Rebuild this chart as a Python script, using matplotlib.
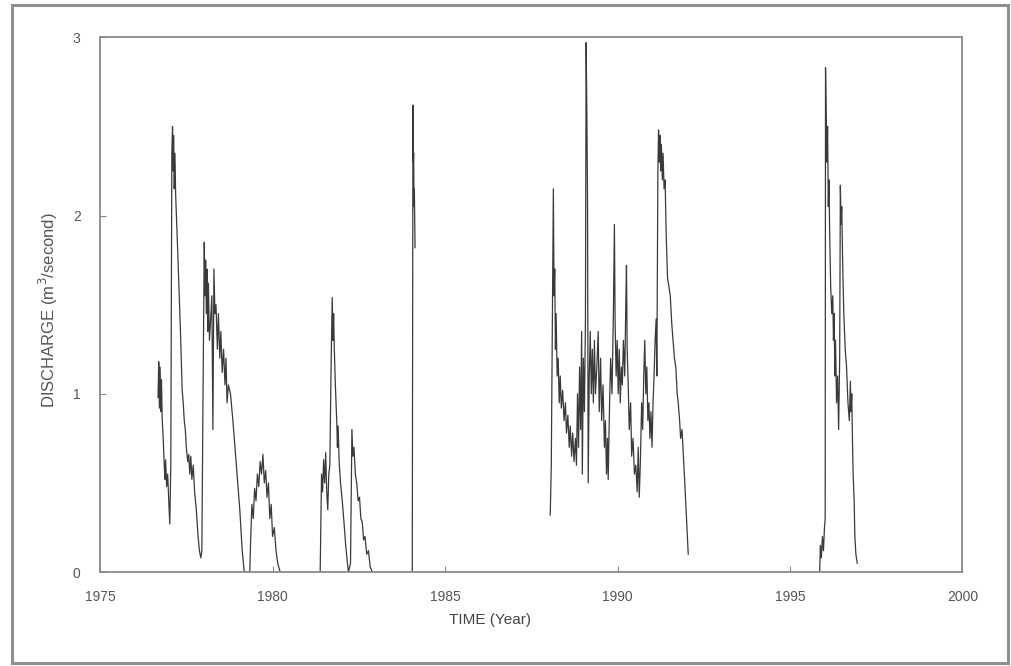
import numpy as np
from matplotlib import pyplot as plt
from matplotlib.patches import Rectangle

# discharge record, one list pair per period with data
YEAR_A = [1976.68, 1976.70, 1976.72, 1976.74, 1976.76, 1976.78, 1976.80, 1976.83, 1976.86, 1976.88,
          1976.90, 1976.93, 1976.96, 1976.99, 1977.02, 1977.05, 1977.08, 1977.10, 1977.12, 1977.13,
          1977.15, 1977.17, 1977.19, 1977.25, 1977.33, 1977.38, 1977.41, 1977.44, 1977.47, 1977.50,
          1977.54, 1977.57, 1977.60, 1977.63, 1977.66, 1977.70, 1977.74, 1977.79, 1977.84, 1977.88,
          1977.92, 1977.95, 1977.98, 1978.02, 1978.04, 1978.06, 1978.08, 1978.10, 1978.12, 1978.14,
          1978.17, 1978.20, 1978.24, 1978.27, 1978.30, 1978.33, 1978.36, 1978.40, 1978.43, 1978.47,
          1978.50, 1978.54, 1978.58, 1978.62, 1978.65, 1978.68, 1978.72, 1978.78, 1978.85, 1978.95,
          1979.05, 1979.12, 1979.18, 1979.28, 1979.34, 1979.36, 1979.40, 1979.44, 1979.48, 1979.52,
          1979.56, 1979.60, 1979.64, 1979.68, 1979.72, 1979.76, 1979.80, 1979.84, 1979.88, 1979.92,
          1979.96, 1980.00, 1980.05, 1980.10, 1980.15, 1980.22]
Q_A = [0.98, 1.18, 0.92, 1.15, 0.90, 1.08, 0.86, 0.75, 0.60, 0.52,
       0.63, 0.48, 0.55, 0.40, 0.27, 0.60, 2.35, 2.50, 2.25, 2.45,
       2.15, 2.35, 2.12, 1.80, 1.35, 1.02, 0.95, 0.85, 0.80, 0.70,
       0.62, 0.66, 0.55, 0.65, 0.52, 0.60, 0.45, 0.35, 0.20, 0.12,
       0.08, 0.12, 0.90, 1.85, 1.55, 1.75, 1.45, 1.70, 1.35, 1.62,
       1.30, 1.40, 1.55, 0.80, 1.70, 1.45, 1.50, 1.25, 1.45, 1.20,
       1.35, 1.12, 1.25, 1.05, 1.20, 0.95, 1.05, 1.00, 0.85, 0.60,
       0.35, 0.12, 0.00, 0.00, 0.00, 0.15, 0.38, 0.30, 0.47, 0.40,
       0.55, 0.48, 0.62, 0.55, 0.66, 0.50, 0.57, 0.42, 0.50, 0.30,
       0.38, 0.20, 0.25, 0.12, 0.05, 0.00]

YEAR_B = [1981.38, 1981.42, 1981.45, 1981.48, 1981.51, 1981.54, 1981.57, 1981.60, 1981.63, 1981.66,
          1981.70, 1981.73, 1981.75, 1981.77, 1981.79, 1981.82, 1981.86, 1981.88, 1981.90, 1981.93,
          1981.97, 1982.02, 1982.07, 1982.12, 1982.17, 1982.20, 1982.26, 1982.30, 1982.33, 1982.36,
          1982.40, 1982.44, 1982.48, 1982.52, 1982.56, 1982.60, 1982.64, 1982.68, 1982.73, 1982.78,
          1982.83, 1982.89]
Q_B = [0.00, 0.55, 0.45, 0.63, 0.50, 0.67, 0.45, 0.35, 0.55, 0.60,
       1.20, 1.54, 1.30, 1.45, 1.25, 1.05, 0.85, 0.70, 0.82, 0.62,
       0.50, 0.40, 0.28, 0.15, 0.05, 0.00, 0.05, 0.80, 0.65, 0.70,
       0.55, 0.50, 0.40, 0.42, 0.30, 0.28, 0.18, 0.20, 0.10, 0.12,
       0.03, 0.00]

YEAR_C = [1984.05, 1984.07, 1984.08, 1984.09, 1984.10, 1984.11, 1984.13]
Q_C = [0.00, 2.62, 2.30, 2.35, 2.05, 2.15, 1.82]

YEAR_D = [1988.05, 1988.08, 1988.11, 1988.14, 1988.16, 1988.18, 1988.20, 1988.22, 1988.25, 1988.28,
          1988.31, 1988.34, 1988.37, 1988.41, 1988.45, 1988.49, 1988.52, 1988.56, 1988.60, 1988.63,
          1988.67, 1988.70, 1988.74, 1988.78, 1988.81, 1988.84, 1988.87, 1988.90, 1988.93, 1988.96,
          1988.98, 1989.01, 1989.04, 1989.07, 1989.09, 1989.11, 1989.13, 1989.15, 1989.18, 1989.21,
          1989.24, 1989.27, 1989.30, 1989.33, 1989.36, 1989.40, 1989.44, 1989.47, 1989.51, 1989.54,
          1989.58, 1989.62, 1989.65, 1989.68, 1989.71, 1989.73, 1989.77, 1989.80, 1989.84, 1989.88,
          1989.91, 1989.93, 1989.96, 1989.99, 1990.02, 1990.05, 1990.08, 1990.11, 1990.14, 1990.17,
          1990.21, 1990.24, 1990.26, 1990.28, 1990.31, 1990.34, 1990.38, 1990.41, 1990.45, 1990.49,
          1990.53, 1990.57, 1990.60, 1990.63, 1990.66, 1990.70, 1990.73, 1990.76, 1990.79, 1990.82,
          1990.85, 1990.88, 1990.91, 1990.94, 1990.97, 1991.00, 1991.03, 1991.06, 1991.09, 1991.12,
          1991.14, 1991.17, 1991.19, 1991.21, 1991.23, 1991.25, 1991.27, 1991.30, 1991.32, 1991.35,
          1991.38, 1991.41, 1991.45, 1991.49, 1991.53, 1991.57, 1991.61, 1991.65, 1991.69, 1991.73,
          1991.76, 1991.80, 1991.83, 1991.87, 1991.91, 1991.95, 1992.00, 1992.05]
Q_D = [0.32, 0.60, 1.40, 2.15, 1.55, 1.70, 1.25, 1.45, 1.10, 1.20,
       0.95, 1.10, 0.92, 1.02, 0.85, 0.95, 0.78, 0.88, 0.70, 0.82,
       0.65, 0.78, 0.62, 0.75, 0.60, 1.00, 0.70, 1.15, 0.80, 1.35,
       0.55, 1.20, 0.90, 1.40, 2.97, 2.60, 2.10, 0.50, 1.10, 1.35,
       1.00, 1.25, 0.95, 1.30, 1.00, 1.15, 1.35, 0.90, 1.20, 0.85,
       1.05, 0.70, 0.85, 0.55, 0.75, 0.52, 0.95, 1.20, 1.00, 1.45,
       1.95, 1.40, 1.10, 1.30, 1.00, 1.25, 0.95, 1.15, 1.05, 1.30,
       1.10, 1.50, 1.72, 1.25, 1.05, 0.80, 0.95, 0.65, 0.75, 0.55,
       0.60, 0.45, 0.70, 0.42, 0.60, 0.95, 0.80, 1.10, 1.30, 1.00,
       1.15, 0.85, 0.95, 0.75, 0.90, 0.70, 0.95, 1.10, 1.30, 1.42,
       1.10, 2.25, 2.48, 2.30, 2.45, 2.25, 2.40, 2.20, 2.35, 2.15,
       2.20, 1.90, 1.65, 1.60, 1.55, 1.40, 1.30, 1.20, 1.15, 1.00,
       0.95, 0.85, 0.75, 0.80, 0.65, 0.50, 0.30, 0.10]

YEAR_E = [1995.86, 1995.88, 1995.91, 1995.94, 1995.97, 1996.00, 1996.02, 1996.03, 1996.05, 1996.07,
          1996.09, 1996.11, 1996.13, 1996.15, 1996.18, 1996.21, 1996.24, 1996.26, 1996.28, 1996.30,
          1996.32, 1996.35, 1996.38, 1996.41, 1996.44, 1996.46, 1996.48, 1996.50, 1996.53, 1996.56,
          1996.60, 1996.64, 1996.68, 1996.72, 1996.75, 1996.77, 1996.79, 1996.81, 1996.83, 1996.86,
          1996.88, 1996.91, 1996.95]
Q_E = [0.00, 0.15, 0.08, 0.20, 0.12, 0.25, 0.30, 2.83, 2.55, 2.30,
       2.50, 2.05, 2.20, 1.90, 1.60, 1.45, 1.55, 1.30, 1.45, 1.10,
       1.30, 0.95, 1.10, 0.80, 1.20, 2.17, 1.95, 2.05, 1.70, 1.45,
       1.25, 1.15, 0.95, 0.85, 1.07, 0.90, 1.00, 0.75, 0.55, 0.40,
       0.20, 0.10, 0.05]

SEGMENTS = [(YEAR_A, Q_A), (YEAR_B, Q_B), (YEAR_C, Q_C), (YEAR_D, Q_D), (YEAR_E, Q_E)]
X_TICKS = [1975, 1980, 1985, 1990, 1995, 2000]
Y_TICKS = [0, 1, 2, 3]


def main():
    plt.rcParams['font.family'] = ['Liberation Sans', 'DejaVu Sans']
    fig = plt.figure(figsize=(10.11, 6.66), dpi=100)
    ax = fig.add_axes([0.099, 0.141, 0.853, 0.803])

    for years, q in SEGMENTS:
        ax.plot(years, q, color="#3a3a3a", linewidth=0.9)

    ax.set_xlim(1975, 2000)
    ax.set_ylim(0, 3)
    ax.set_xticks(X_TICKS)
    ax.set_yticks(Y_TICKS)
    ax.tick_params(direction="in", length=4, color="#888888", labelcolor="#555555", labelsize=10)
    ax.tick_params(axis="x", pad=13)
    ax.tick_params(axis="y", pad=14)
    for sp in ax.spines.values():
        sp.set_color("#8a8a8a")
        sp.set_linewidth(1.3)

    ax.set_xlabel("TIME (Year)", fontsize=11, color="#444444", va="center")
    ax.xaxis.set_label_coords(0.452, -0.09)
    ax.set_ylabel("DISCHARGE (m$^3$/second)", fontsize=12, color="#555555", va="center")
    ax.yaxis.set_label_coords(-0.06, 0.49)

    # grey frame round the whole picture
    fig.patches.append(Rectangle((0.012, 0.005), 0.985, 0.988, transform=fig.transFigure,
                                 fill=False, edgecolor="#8f8f8f", linewidth=2.2))

    fig.savefig("out.png", dpi=100)


if __name__ == '__main__':
    main()
